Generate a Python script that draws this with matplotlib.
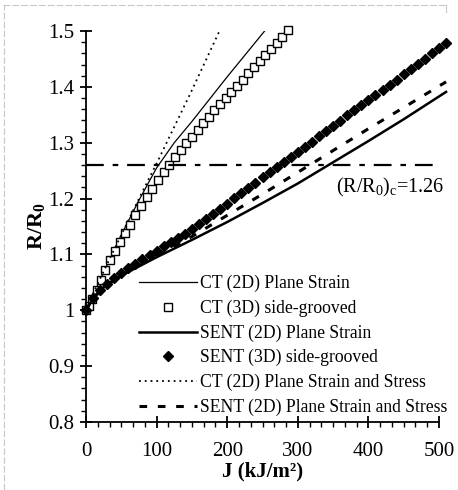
import matplotlib
matplotlib.use('Agg')
import matplotlib.pyplot as plt
from matplotlib.ticker import AutoMinorLocator, FormatStrFormatter
from matplotlib.lines import Line2D

plt.rcParams['font.family'] = ['Liberation Serif', 'DejaVu Serif']
plt.rcParams['mathtext.fontset'] = 'custom'
plt.rcParams['mathtext.rm'] = 'Liberation Serif'
plt.rcParams['mathtext.it'] = 'Liberation Serif:italic'
plt.rcParams['mathtext.bf'] = 'Liberation Serif:bold'

# CT (2D) plane strain, thin solid
ct_2d_j = [0, 10, 25, 50, 75, 100, 125, 150, 200, 253]
ct_2d_r = [1.0, 1.028, 1.068, 1.135, 1.197, 1.255, 1.300, 1.338, 1.418, 1.5]

# CT (3D) side-grooved, open squares
ct_3d_j = [0, 4, 9, 15, 21, 27, 34, 41, 48, 55, 62, 70, 78, 86, 94, 102, 110,
           118, 126, 134, 142, 150, 158, 166, 174, 182, 190, 198, 206, 214,
           222, 230, 238, 246, 254, 262, 270, 278, 286]
ct_3d_r = [1.0, 1.007, 1.020, 1.037, 1.055, 1.072, 1.090, 1.107, 1.123, 1.138,
           1.153, 1.170, 1.186, 1.202, 1.218, 1.233, 1.248, 1.261, 1.274, 1.287,
           1.299, 1.311, 1.323, 1.335, 1.346, 1.358, 1.369, 1.380, 1.391, 1.402,
           1.413, 1.424, 1.435, 1.446, 1.457, 1.468, 1.479, 1.490, 1.501]

# SENT (2D) plane strain, thick solid
sent_2d_j = [0, 10, 25, 50, 100, 150, 200, 250, 300, 350, 400, 450, 510]
sent_2d_r = [1.0, 1.022, 1.041, 1.062, 1.095, 1.126, 1.158, 1.192, 1.227,
             1.265, 1.303, 1.342, 1.391]

# SENT (3D) side-grooved, filled diamonds
sent_3d_j = [0, 10, 20, 30, 40, 50, 60, 70, 80, 90, 100, 110, 120, 130, 140,
             150, 160, 170, 180, 190, 200, 210, 220, 230, 240, 250, 260, 270,
             280, 290, 300, 310, 320, 330, 340, 350, 360, 370, 380, 390, 400,
             410, 420, 430, 440, 450, 460, 470, 480, 490, 500, 510]
sent_3d_r = [1.0, 1.022, 1.036, 1.047, 1.057, 1.066, 1.075, 1.083, 1.091, 1.099,
             1.107, 1.115, 1.122, 1.129, 1.137, 1.145, 1.154, 1.164, 1.173, 1.182,
             1.191, 1.201, 1.210, 1.219, 1.228, 1.238, 1.247, 1.256, 1.265, 1.275,
             1.284, 1.293, 1.302, 1.312, 1.321, 1.330, 1.339, 1.349, 1.358, 1.367,
             1.376, 1.386, 1.395, 1.404, 1.413, 1.423, 1.432, 1.441, 1.450, 1.460,
             1.469, 1.478]

# CT (2D) plane strain and stress, dotted
ct_ps_j = [0, 10, 25, 50, 75, 102, 150, 189]
ct_ps_r = [1.0, 1.03, 1.07, 1.135, 1.2, 1.268, 1.394, 1.5]

# SENT (2D) plane strain and stress, dashed
sent_ps_j = [0, 10, 25, 50, 100, 150, 200, 250, 300, 350, 400, 450, 510]
sent_ps_r = [1.0, 1.022, 1.041, 1.063, 1.098, 1.132, 1.170, 1.208, 1.247,
             1.286, 1.325, 1.363, 1.409]

critical_r = 1.26

fig = plt.figure(figsize=(4.58, 4.9), dpi=100)
ax = fig.add_axes([0.1878, 0.1388, 0.7707, 0.7979])

ax.plot(ct_2d_j, ct_2d_r, color='black', lw=0.9)
ax.plot(ct_3d_j, ct_3d_r, ls='none', marker='s', ms=6.2, mfc='white',
        mec='black', mew=1.0, clip_on=False)
ax.plot(sent_2d_j, sent_2d_r, color='black', lw=1.8, clip_on=False)
ax.plot(sent_3d_j, sent_3d_r, ls='none', marker='D', ms=5.4, mfc='black',
        mec='black', clip_on=False)
ax.plot(ct_ps_j, ct_ps_r, color='black', lw=1.3, ls=(0, (1, 2.2)))
ax.plot(sent_ps_j, sent_ps_r, color='black', lw=2.2, ls=(0, (2.5, 3.5)),
        clip_on=False)

ax.plot([0, 500], [critical_r, critical_r], color='black', lw=1.6,
        ls=(0, (8, 4, 2.5, 4)))
ax.text(508, 1.219, r'(R/R$_0$)$_{\rm c}$=1.26', ha='right', va='center',
        fontsize=14.5)

ax.set_xlim(0, 500)
ax.set_ylim(0.8, 1.5)
ax.set_xticks([0, 100, 200, 300, 400, 500])
ax.set_yticks([0.8, 0.9, 1.0, 1.1, 1.2, 1.3, 1.4, 1.5])
ax.yaxis.set_major_formatter(FormatStrFormatter('%g'))
ax.xaxis.set_minor_locator(AutoMinorLocator(6))
ax.yaxis.set_minor_locator(AutoMinorLocator(5))
ax.spines['top'].set_visible(False)
ax.spines['right'].set_visible(False)
ax.spines['left'].set_linewidth(1.3)
ax.spines['bottom'].set_linewidth(1.3)
ax.tick_params(which='major', direction='inout', length=9, width=1.3,
               labelsize=15)
ax.tick_params(which='minor', direction='out', length=3.5, width=1.0)
ax.tick_params(axis='x', which='major', pad=10)
ax.tick_params(axis='y', which='major', pad=4)

ax.set_xlabel('J (kJ/m²)', fontsize=15, fontweight='bold', labelpad=0)
ax.set_ylabel(r'$\mathbf{R/R_0}$', fontsize=16, labelpad=1)

handles = [
    Line2D([], [], color='black', lw=0.9),
    Line2D([], [], ls='none', marker='s', ms=6.2, mfc='white', mec='black'),
    Line2D([], [], color='black', lw=1.8),
    Line2D([], [], ls='none', marker='D', ms=5.4, mfc='black', mec='black'),
    Line2D([], [], color='black', lw=1.3, ls=(0, (1, 2.2))),
    Line2D([], [], color='black', lw=2.2, ls=(0, (2.5, 3.5))),
]
labels = ['CT (2D) Plane Strain', 'CT (3D) side-grooved',
          'SENT (2D) Plane Strain', 'SENT (3D) side-grooved',
          'CT (2D) Plane Strain and Stress',
          'SENT (2D) Plane Strain and Stress']
fig.legend(handles, labels, loc='upper left',
           bbox_to_anchor=(139 / 458, 1 - 275 / 490), frameon=False,
           fontsize=12.7, handlelength=3.3, handletextpad=0.15,
           labelspacing=0.42, borderpad=0, borderaxespad=0)

# faint scan border
fig.add_artist(Line2D([3 / 458, 446 / 458], [485 / 490, 485 / 490],
                      color='#c8c8c8', lw=0.8, ls=(0, (6, 2))))
fig.add_artist(Line2D([4 / 458, 4 / 458], [0, 485 / 490],
                      color='#c8c8c8', lw=0.8, ls=(0, (6, 2))))
fig.add_artist(Line2D([446 / 458, 446 / 458], [478 / 490, 485 / 490],
                      color='#c8c8c8', lw=0.8))

fig.savefig('out.png', dpi=100)
